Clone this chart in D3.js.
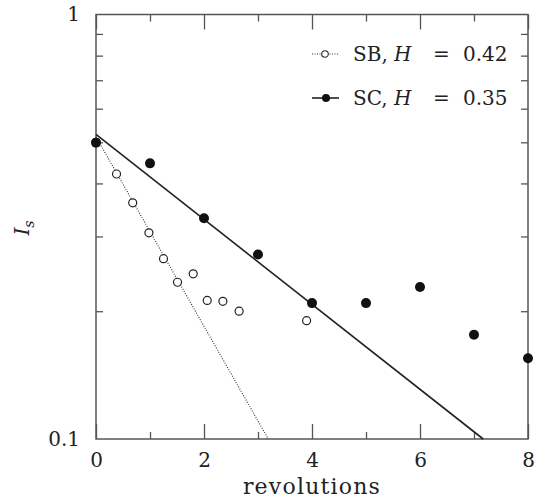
<!DOCTYPE html>
<html>
<head>
<meta charset="utf-8">
<script src="https://cdn.jsdelivr.net/npm/d3@7"></script>
<style>
  body { margin: 0; background: #fff; }
  text { font-family: "DejaVu Serif", serif; fill: #222; }
</style>
</head>
<body>
<svg id="chart"></svg>
<script>
// open circles, SB
const sbRev = [0, 0.38, 0.68, 0.98, 1.25, 1.51, 1.80, 2.06, 2.35, 2.65, 3.90];
const sbIs = [0.50, 0.421, 0.360, 0.306, 0.266, 0.234, 0.245, 0.212, 0.211, 0.200, 0.190];
// filled circles, SC
const scRev = [0, 1, 2, 3, 4, 5, 6, 7, 8];
const scIs = [0.499, 0.446, 0.331, 0.272, 0.209, 0.209, 0.228, 0.176, 0.155];
// fitted lines (end points)
const sbFit = [[0, 0.515], [3.19, 0.1]];
const scFit = [[0, 0.522], [7.17, 0.1]];

const legendNames = ["SB", "SC"];
const legendH = ["0.42", "0.35"];
const xMajor = [0, 2, 4, 6, 8];
const xMinor = [1, 3, 5, 7];
const yMinor = [0.2, 0.3, 0.4, 0.5, 0.6, 0.7, 0.8, 0.9];

const width = 534, height = 504;
const plotL = 96, plotR = 528, plotT = 14.5, plotB = 439;

const svg = d3.select("#chart").attr("width", width).attr("height", height);

const x = d3.scaleLinear().domain([0, 8]).range([plotL, plotR]);
const y = d3.scaleLog().domain([0.1, 1]).range([plotB, plotT]);

const axisColor = "#555";

function styleAxis(g) {
    g.select(".domain").remove();
    g.selectAll(".tick line").attr("stroke", axisColor).attr("stroke-width", 1.3);
    g.selectAll(".tick text").style("font-size", "20px").attr("fill", "#222");
}

// bottom
svg.append("g").attr("transform", `translate(0,${plotB})`)
    .call(d3.axisBottom(x).tickValues(xMajor).tickSize(-15).tickPadding(14).tickFormat(d3.format("d")))
    .call(styleAxis);
svg.append("g").attr("transform", `translate(0,${plotB})`)
    .call(d3.axisBottom(x).tickValues(xMinor).tickSize(-7).tickFormat(""))
    .call(styleAxis);
// top
svg.append("g").attr("transform", `translate(0,${plotT})`)
    .call(d3.axisTop(x).tickValues(xMajor).tickSize(-15).tickFormat(""))
    .call(styleAxis);
svg.append("g").attr("transform", `translate(0,${plotT})`)
    .call(d3.axisTop(x).tickValues(xMinor).tickSize(-7).tickFormat(""))
    .call(styleAxis);
// left
svg.append("g").attr("transform", `translate(${plotL},0)`)
    .call(d3.axisLeft(y).tickValues(yMinor).tickSize(-7).tickFormat(""))
    .call(styleAxis);
svg.append("g").attr("transform", `translate(${plotL},0)`)
    .call(d3.axisLeft(y).tickValues([0.1, 1]).tickSize(0).tickPadding(16).tickFormat(d => d === 1 ? "1" : "0.1"))
    .call(styleAxis);
// right
svg.append("g").attr("transform", `translate(${plotR},0)`)
    .call(d3.axisRight(y).tickValues(yMinor).tickSize(-7).tickFormat(""))
    .call(styleAxis);

// frame
svg.append("rect")
    .attr("x", plotL).attr("y", plotT)
    .attr("width", plotR - plotL).attr("height", plotB - plotT)
    .attr("fill", "none").attr("stroke", axisColor).attr("stroke-width", 1.5);

// axis titles
svg.append("text")
    .attr("x", (plotL + plotR) / 2).attr("y", 494)
    .attr("text-anchor", "middle")
    .style("font-size", "22px").style("letter-spacing", "1.2px")
    .text("revolutions");

const yl = svg.append("text")
    .attr("transform", "translate(29,228) rotate(-90)")
    .attr("text-anchor", "middle")
    .attr("fill", "#222")
    .style("font-size", "20px");
yl.append("tspan").style("font-style", "italic").text("I");
yl.append("tspan").attr("dy", 5).style("font-size", "14px").style("font-style", "italic").text("s");

const line = d3.line().x(d => x(d[0])).y(d => y(d[1]));

svg.append("path").datum(sbFit).attr("d", line)
    .attr("fill", "none").attr("stroke", "#333").attr("stroke-width", 1.1)
    .attr("stroke-dasharray", "1,1.5");
svg.append("path").datum(scFit).attr("d", line)
    .attr("fill", "none").attr("stroke", "#222").attr("stroke-width", 1.6);

svg.append("g").selectAll("circle")
    .data(d3.zip(sbRev, sbIs))
    .join("circle")
    .attr("cx", d => x(d[0])).attr("cy", d => y(d[1])).attr("r", 4)
    .attr("fill", "#fff").attr("stroke", "#222").attr("stroke-width", 1.2);

svg.append("g").selectAll("circle")
    .data(d3.zip(scRev, scIs))
    .join("circle")
    .attr("cx", d => x(d[0])).attr("cy", d => y(d[1])).attr("r", 5)
    .attr("fill", "#111");

// legend
const legend = svg.append("g");
legendNames.forEach((name, i) => {
    const ly = 54 + i * 44;
    const g = legend.append("g").attr("transform", `translate(0,${ly})`);
    if (i === 0) {
        g.append("line").attr("x1", 312).attr("x2", 339).attr("y1", 0).attr("y2", 0)
            .attr("stroke", "#333").attr("stroke-width", 1.1).attr("stroke-dasharray", "1,1.5");
        g.append("circle").attr("cx", 325).attr("cy", 0).attr("r", 3.3)
            .attr("fill", "#fff").attr("stroke", "#222").attr("stroke-width", 1.1);
    } else {
        g.append("line").attr("x1", 312).attr("x2", 339).attr("y1", 0).attr("y2", 0)
            .attr("stroke", "#222").attr("stroke-width", 1.6);
        g.append("circle").attr("cx", 326).attr("cy", 0).attr("r", 4).attr("fill", "#111");
    }
    const t = g.append("text").attr("y", 7).style("font-size", "20px");
    t.append("tspan").attr("x", 353).text(name + ",");
    t.append("tspan").attr("x", 394).style("font-style", "italic").text("H");
    t.append("tspan").attr("x", 433).text("=");
    t.append("tspan").attr("x", 463).text(legendH[i]);
});
</script>
</body>
</html>
